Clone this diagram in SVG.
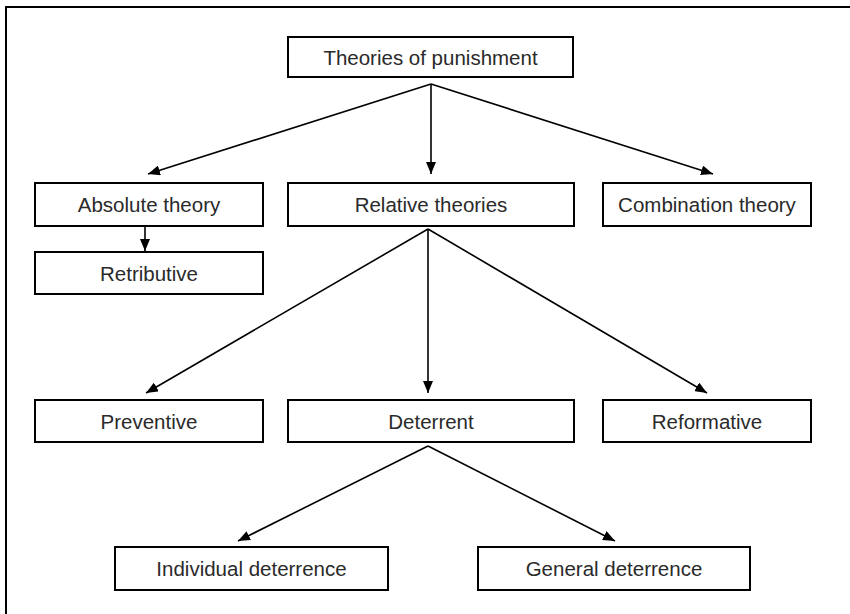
<svg xmlns="http://www.w3.org/2000/svg" width="850" height="614" viewBox="0 0 850 614">
  <defs>
    <marker id="ah" viewBox="0 0 12 10" refX="12" refY="5" markerWidth="12" markerHeight="10" markerUnits="userSpaceOnUse" orient="auto">
      <path d="M0,0 L12,5 L0,10 z" fill="#000"/>
    </marker>
    <style>
      .box { fill: #fff; stroke: #000; stroke-width: 2; }
      .lbl { font-family: "Liberation Sans", Arial, sans-serif; font-size: 20.5px; fill: #2a2a2a; text-anchor: middle; }
      .edge { stroke: #000; stroke-width: 1.6; fill: none; }
      .arrow { marker-end: url(#ah); }
      .frame { stroke: #000; stroke-width: 2; fill: none; }
    </style>
  </defs>
  <rect width="850" height="614" fill="#fff"/>
  <path class="frame" d="M6,614 L6,7 L850,7"/>

  <g id="connectors">
    <line class="edge arrow" x1="431" y1="84" x2="148" y2="174"/>
    <line class="edge arrow" x1="431" y1="84" x2="431" y2="174"/>
    <line class="edge arrow" x1="431" y1="84" x2="713" y2="174"/>
    <line class="edge arrow" x1="145" y1="227" x2="145" y2="251"/>
    <line class="edge arrow" x1="428" y1="229" x2="146" y2="393"/>
    <line class="edge arrow" x1="428" y1="229" x2="428" y2="393"/>
    <line class="edge arrow" x1="428" y1="229" x2="707" y2="393"/>
    <line class="edge arrow" x1="428" y1="446" x2="238" y2="541"/>
    <line class="edge arrow" x1="428" y1="446" x2="615" y2="541"/>
  </g>

  <g id="theories">
    <rect class="box" x="288" y="37" width="285" height="40"/>
    <text class="lbl" x="430.5" y="64.5">Theories of punishment</text>
  </g>
  <g id="absolute">
    <rect class="box" x="35" y="183" width="228" height="43"/>
    <text class="lbl" x="149" y="212">Absolute theory</text>
  </g>
  <g id="retributive">
    <rect class="box" x="35" y="252" width="228" height="42"/>
    <text class="lbl" x="149" y="280.5">Retributive</text>
  </g>
  <g id="relative">
    <rect class="box" x="288" y="183" width="286" height="43"/>
    <text class="lbl" x="431" y="212">Relative theories</text>
  </g>
  <g id="combination">
    <rect class="box" x="603" y="183" width="208" height="43"/>
    <text class="lbl" x="707" y="212">Combination theory</text>
  </g>
  <g id="preventive">
    <rect class="box" x="35" y="400" width="228" height="42"/>
    <text class="lbl" x="149" y="428.5">Preventive</text>
  </g>
  <g id="deterrent">
    <rect class="box" x="288" y="400" width="286" height="42"/>
    <text class="lbl" x="431" y="428.5">Deterrent</text>
  </g>
  <g id="reformative">
    <rect class="box" x="603" y="400" width="208" height="42"/>
    <text class="lbl" x="707" y="428.5">Reformative</text>
  </g>
  <g id="individual">
    <rect class="box" x="115" y="547" width="273" height="43"/>
    <text class="lbl" x="251.5" y="576">Individual deterrence</text>
  </g>
  <g id="general">
    <rect class="box" x="478" y="547" width="272" height="43"/>
    <text class="lbl" x="614" y="576">General deterrence</text>
  </g>
</svg>
